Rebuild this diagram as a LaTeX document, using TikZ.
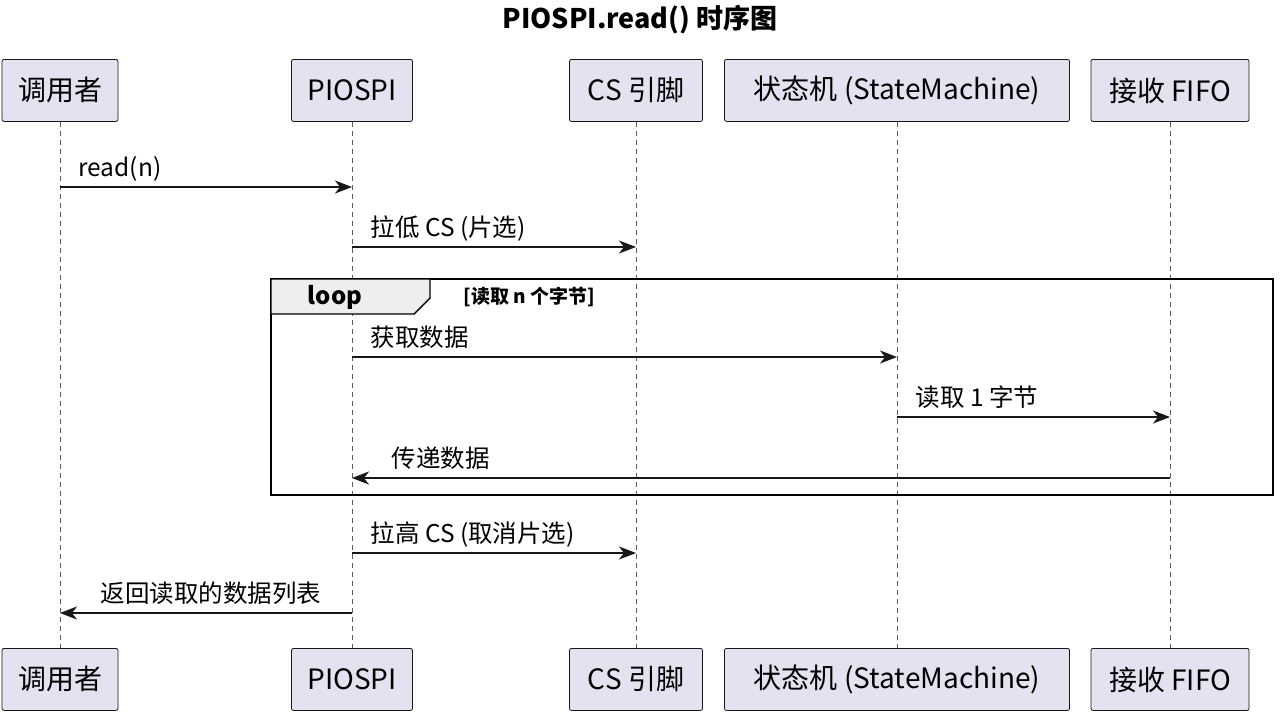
\documentclass[tikz,border=0pt]{standalone}
\usepackage{fontspec}
\setmainfont{Noto Sans CJK SC}
\usetikzlibrary{arrows.meta,positioning}
\definecolor{partfill}{HTML}{E2E2F0}
\definecolor{linegray}{HTML}{181818}
\definecolor{tabfill}{HTML}{EEEEEE}
\begin{document}
\begin{tikzpicture}[x=1pt,y=-1pt,>={Stealth[length=17pt,width=13pt,inset=5pt]}]
\tikzstyle{part} = [draw=linegray, fill=partfill, rounded corners=2pt, line width=0.8pt, minimum height=62pt, inner xsep=13pt, font=\fontsize{28}{30}\selectfont, anchor=north]
\tikzstyle{life} = [draw=linegray!70, dashed, dash pattern=on 5pt off 4pt, line width=0.8pt]
\tikzstyle{msg} = [->, draw=linegray, line width=1.4pt]
\tikzstyle{lbl} = [font=\fontsize{24.5}{26}\selectfont, anchor=base west]
\useasboundingbox (0,0) rectangle (1280,716);

\node[font=\bfseries\fontsize{27}{29}\selectfont] (title) at (640,20) {PIOSPI.read() 时序图};

% participants
\foreach \name/\x/\w/\txt in {caller/60/116/调用者, spi/352/121/PIOSPI, cs/636/133/CS 引脚, sm/897/345/状态机 (StateMachine), fifo/1170/158/接收 FIFO}{
  \node[part, minimum width=\w pt] (\name top) at (\x,59) {\txt};
  \node[part, minimum width=\w pt] (\name bot) at (\x,648) {\txt};
  \draw[life] (\name top) -- (\name bot);
}

% loop frame
\draw[line width=1.8pt, draw=black] (271,279) rectangle (1273,495);
\draw[line width=1.4pt, fill=tabfill] (271,279) -- (430,279) -- (430,298) -- (414,314) -- (271,314) -- cycle;
\node[font=\bfseries\fontsize{24}{26}\selectfont] (looptag) at (335,297) {loop};
\node[font=\bfseries\fontsize{19}{21}\selectfont, anchor=west] (guard) at (460,297) {[读取 n 个字节]};

% messages
\foreach \a/\b/\y/\lx/\txt in {caller/spi/187/75/read(n), spi/cs/247/367/拉低 CS (片选), spi/sm/357/367/获取数据, sm/fifo/417/912/读取 1 字节, fifo/spi/478/388/传递数据, spi/cs/553/367/拉高 CS (取消片选), spi/caller/613/97/返回读取的数据列表}{
  \coordinate (s) at (\a top.south |- 0,\y);
  \coordinate (e) at (\b top.south |- 0,\y);
  \draw[msg] (s) -- (e);
  \node[lbl] at (\lx,\y-11) {\txt};
}
\end{tikzpicture}
\end{document}
